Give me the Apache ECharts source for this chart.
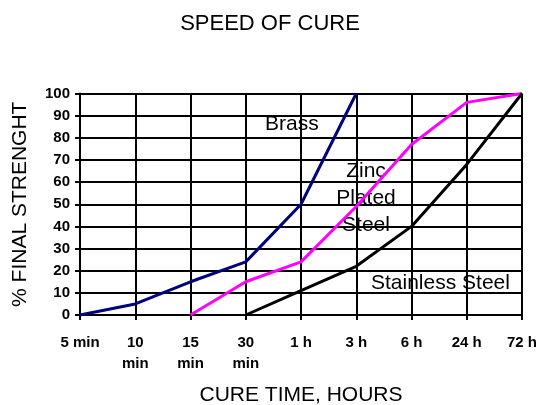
<!DOCTYPE html>
<html><head><meta charset="utf-8">
<script src="https://cdn.jsdelivr.net/npm/echarts@6/dist/echarts.min.js"></script>
<style>html,body{margin:0;padding:0;background:#fff}#c{width:540px;height:405px}</style>
</head><body><div id="c"></div>
<script>
const categories = ['5 min', '10\nmin', '15\nmin', '30\nmin', '1 h', '3 h', '6 h', '24 h', '72 h'];
const brass = [0, 5, 15, 24, 50, 100, null, null, null];
const zincPlated = [null, null, 0, 15, 24, 49, 77, 96, 100];
const stainless = [null, null, null, 0, 11, 22, 40, 68, 100];
const yTicks = [0, 10, 20, 30, 40, 50, 60, 70, 80, 90, 100];

const FONT = '"Liberation Sans", Arial, sans-serif';
const chart = echarts.init(document.getElementById('c'), null, {renderer: 'canvas'});
const mk = (name, data, color) => ({
  name, type: 'line', data, symbol: 'none', connectNulls: false,
  lineStyle: {color, width: 3}, itemStyle: {color}, animation: false
});
chart.setOption({
  animation: false,
  backgroundColor: '#fff',
  title: {text: 'SPEED OF CURE', left: 'center', top: 13, padding: 0,
    textStyle: {fontFamily: FONT, fontSize: 22, fontWeight: 'normal', color: '#000'}},
  grid: {left: 80, right: 18, top: 93.5, bottom: 90, containLabel: false, outerBoundsMode: 'none'},
  xAxis: {
    type: 'category', data: categories, boundaryGap: false,
    name: 'CURE TIME, HOURS', nameLocation: 'middle', nameGap: 80,
    nameTextStyle: {fontFamily: FONT, fontSize: 21, color: '#000', verticalAlign: 'middle'},
    axisLine: {lineStyle: {color: '#000', width: 2}},
    axisTick: {show: true, inside: false, length: 5, lineStyle: {color: '#000', width: 2}},
    axisLabel: {fontFamily: FONT, fontSize: 15, fontWeight: 'bold', color: '#000', margin: 17, lineHeight: 21, interval: 0},
    splitLine: {show: true, lineStyle: {color: '#000', width: 2}}
  },
  yAxis: {
    type: 'value', min: 0, max: 100, interval: 10,
    name: '% FINAL STRENGHT', nameLocation: 'middle', nameGap: 60, nameRotate: 90,
    nameTextStyle: {fontFamily: FONT, fontSize: 21, color: '#000', verticalAlign: 'middle'},
    axisLine: {show: true, lineStyle: {color: '#000', width: 2}},
    axisTick: {show: true, length: 5, lineStyle: {color: '#000', width: 2}},
    axisLabel: {fontFamily: FONT, fontSize: 15, fontWeight: 'bold', color: '#000', margin: 10,
      formatter: v => yTicks.includes(v) ? String(v) : ''},
    splitLine: {show: true, lineStyle: {color: '#000', width: 2}}
  },
  series: [
    mk('Brass', brass, '#000080'),
    mk('Zinc Plated Steel', zincPlated, '#ff00ff'),
    mk('Stainless Steel', stainless, '#000000')
  ],
  graphic: [
    {type: 'text', x: 265, y: 124, style: {text: 'Brass', font: '21px ' + FONT, fill: '#000', verticalAlign: 'middle'}},
    {type: 'text', x: 366, y: 198, style: {text: 'Zinc\nPlated\nSteel', font: '21px ' + FONT, fill: '#000', align: 'center', verticalAlign: 'middle', lineHeight: 27}},
    {type: 'text', x: 371, y: 283, style: {text: 'Stainless Steel', font: '21px ' + FONT, fill: '#000', verticalAlign: 'middle'}}
  ]
});
</script></body></html>
